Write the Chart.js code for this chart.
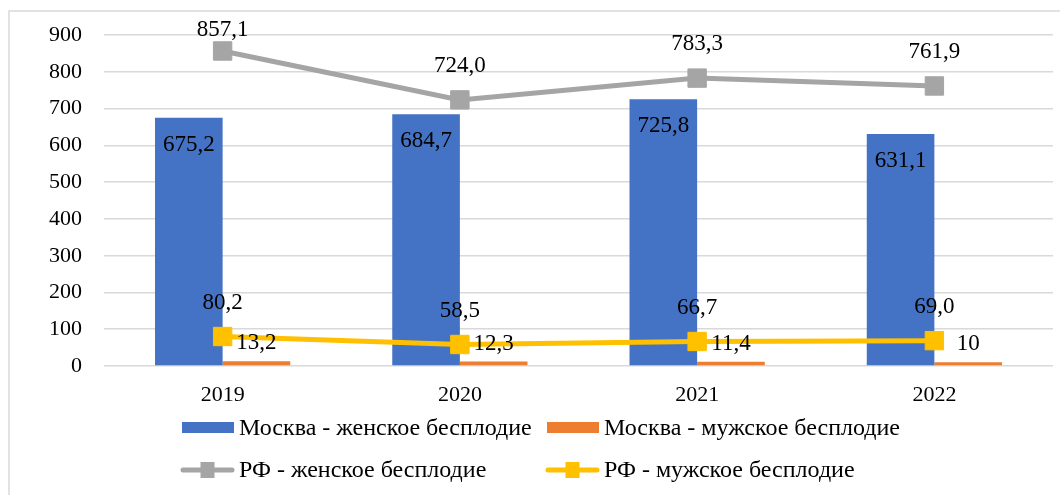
<!DOCTYPE html>
<html>
<head>
<meta charset="utf-8">
<script src="https://cdn.jsdelivr.net/npm/chart.js@4.4.1/dist/chart.umd.min.js"></script>
<style>
    html, body { margin: 0; padding: 0; background: #fff; overflow: hidden; }
    #wrap { position: relative; width: 1060px; height: 495px; }
</style>
</head>
<body>
<div id="wrap"><canvas id="chart" width="1060" height="495"></canvas></div>
<script>
// Data
const years = ['2019', '2020', '2021', '2022'];
const moscowFemale = [675.2, 684.7, 725.8, 631.1];
const moscowMale = [13.2, 12.3, 11.4, 10];
const rfFemale = [857.1, 724.0, 783.3, 761.9];
const rfMale = [80.2, 58.5, 66.7, 69.0];
const yTicks = [0, 100, 200, 300, 400, 500, 600, 700, 800, 900];

const seriesNames = [
    'Москва - женское бесплодие',
    'Москва - мужское бесплодие',
    'РФ - женское бесплодие',
    'РФ - мужское бесплодие'
];

const COLORS = {
    blue: '#4472C4',
    orange: '#ED7D31',
    grey: '#A5A5A5',
    yellow: '#FFC000',
    grid: '#D9D9D9',
    text: '#000000'
};

const FONT_FAMILY = '"Liberation Serif", "Times New Roman", serif';
const TICK_SIZE = 22;
const LABEL_SIZE = 23;
const LEGEND_SIZE = 24;

// label text: one decimal with comma, except the Moscow male series as printed
function fmt(v, datasetIndex) {
    if (datasetIndex === 1) return String(v).replace('.', ',');
    return v.toFixed(1).replace('.', ',');
}

// Data labels
const dataLabels = {
    id: 'dataLabels',
    afterDatasetsDraw(chart) {
        const ctx = chart.ctx;
        ctx.save();
        ctx.font = `${LABEL_SIZE}px ${FONT_FAMILY}`;
        ctx.fillStyle = COLORS.text;
        ctx.textAlign = 'center';
        ctx.textBaseline = 'middle';
        chart.data.datasets.forEach((ds, i) => {
            const meta = chart.getDatasetMeta(i);
            meta.data.forEach((el, j) => {
                const text = fmt(ds.data[j], i);
                let y;
                if (i === 0) y = el.y + 27;           // inside blue bar, near the top
                else if (i === 1) y = el.y - 18;      // above thin orange bar
                else y = Math.max(el.y - 34, 30);     // above line points
                ctx.fillText(text, el.x, y);
            });
        });
        ctx.restore();
    }
};

// Frame + legend in two aligned columns
const frameLegend = {
    id: 'frameLegend',
    beforeDraw(chart) {
        const ctx = chart.ctx;
        ctx.save();
        ctx.strokeStyle = COLORS.grid;
        ctx.lineWidth = 1.5;
        ctx.beginPath();
        ctx.moveTo(9, chart.height + 2);
        ctx.lineTo(9, 11);
        ctx.lineTo(chart.width + 2, 11);
        ctx.stroke();
        ctx.restore();
    },
    afterDraw(chart) {
        const ctx = chart.ctx;
        const cols = [181, 546];
        const rows = [428, 470];
        const swatchW = 53;
        ctx.save();
        ctx.font = `${LEGEND_SIZE}px ${FONT_FAMILY}`;
        ctx.textBaseline = 'middle';
        ctx.textAlign = 'left';
        chart.data.datasets.forEach((ds, i) => {
            const x = cols[i % 2];
            const y = rows[Math.floor(i / 2)];
            if (ds.type === 'bar') {
                ctx.fillStyle = ds.backgroundColor;
                ctx.fillRect(x + 1, y - 6, swatchW - 1, 11);
            } else {
                ctx.strokeStyle = ds.borderColor;
                ctx.lineWidth = 5;
                ctx.lineCap = 'round';
                ctx.beginPath();
                ctx.moveTo(x + 2, y);
                ctx.lineTo(x + swatchW - 2, y);
                ctx.stroke();
                ctx.fillStyle = ds.borderColor;
                ctx.fillRect(x + swatchW / 2 - 7, y - 8, 14, 16);
            }
            ctx.fillStyle = COLORS.text;
            ctx.fillText(seriesNames[i], x + swatchW + 5, y + 1);
        });
        ctx.restore();
    }
};

const lineStyle = (color) => ({
    borderColor: color,
    backgroundColor: color,
    borderWidth: 5,
    pointStyle: 'rect',
    pointRadius: 13,
    pointHoverRadius: 13,
    pointBorderWidth: 1,
    pointBackgroundColor: color,
    pointBorderColor: color,
    tension: 0,
    fill: false
});

new Chart(document.getElementById('chart').getContext('2d'), {
    data: {
        labels: years,
        datasets: [
            { type: 'bar', label: seriesNames[0], data: moscowFemale, backgroundColor: COLORS.blue, order: 2 },
            { type: 'bar', label: seriesNames[1], data: moscowMale, backgroundColor: COLORS.orange, order: 2 },
            { type: 'line', label: seriesNames[2], data: rfFemale, order: 1, ...lineStyle(COLORS.grey) },
            { type: 'line', label: seriesNames[3], data: rfMale, order: 0, ...lineStyle(COLORS.yellow) }
        ]
    },
    options: {
        responsive: false,
        animation: false,
        devicePixelRatio: 1,
        layout: { autoPadding: false, padding: { top: 35, right: 7, bottom: 84, left: 0 } },
        datasets: {
            bar: { categoryPercentage: 0.57, barPercentage: 1.0 }
        },
        plugins: {
            legend: { display: false },
            tooltip: { enabled: false }
        },
        scales: {
            x: {
                grid: { display: false, drawTicks: false },
                border: { display: false },
                ticks: {
                    color: COLORS.text,
                    padding: 16,
                    font: { family: FONT_FAMILY, size: TICK_SIZE }
                },
                afterFit(scale) { scale.height = 45; }
            },
            y: {
                min: 0,
                max: 900,
                afterBuildTicks(scale) { scale.ticks = yTicks.map(v => ({ value: v })); },
                grid: { color: COLORS.grid, lineWidth: 1.5, drawTicks: false },
                border: { display: false },
                ticks: {
                    color: COLORS.text,
                    padding: 22,
                    font: { family: FONT_FAMILY, size: TICK_SIZE }
                },
                afterFit(scale) { scale.width = 104; }
            }
        }
    },
    plugins: [dataLabels, frameLegend]
});
</script>
</body>
</html>
